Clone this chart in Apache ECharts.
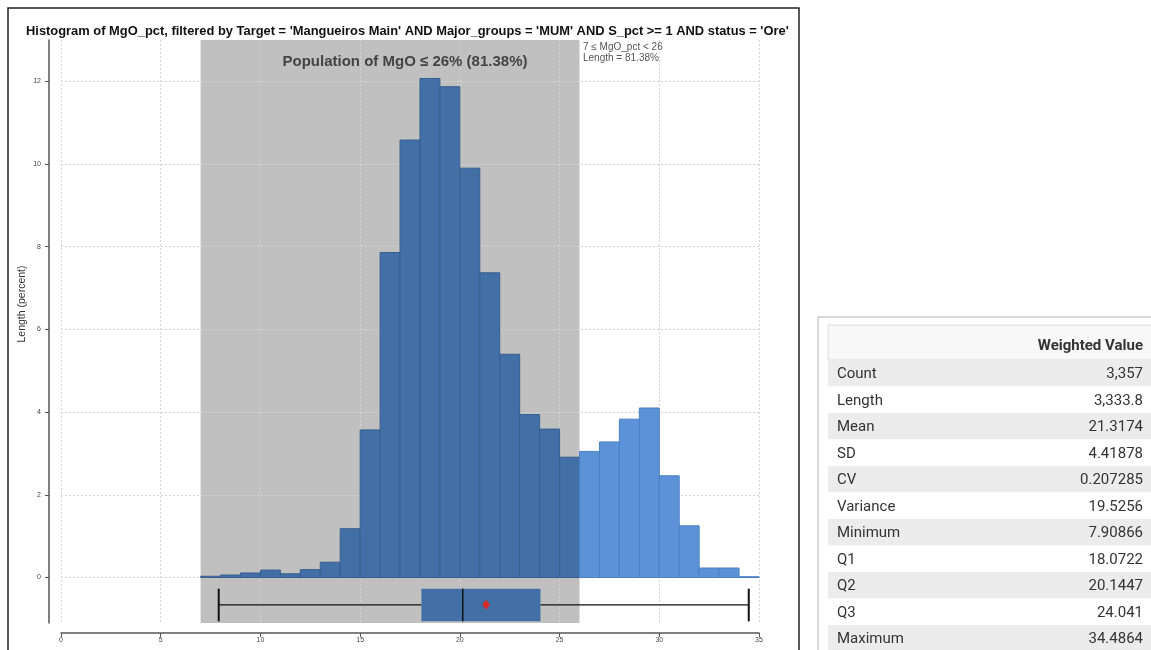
<!DOCTYPE html>
<html>
<head>
<meta charset="utf-8">
<script src="https://cdn.jsdelivr.net/npm/echarts@6/dist/echarts.min.js"></script>
<style>
  html, body { margin: 0; padding: 0; background: #ffffff; }
  #chart { width: 1151px; height: 650px; }
</style>
</head>
<body>
<div id="chart"></div>
<script>
// ---- data ----
const TITLE = "Histogram of MgO_pct, filtered by Target = 'Mangueiros Main' AND Major_groups = 'MUM' AND S_pct >= 1 AND status = 'Ore'";
const BIN_LEFT = [7, 8, 9, 10, 11, 12, 13, 14, 15, 16, 17, 18, 19, 20, 21, 22, 23, 24, 25, 26, 27, 28, 29, 30, 31, 32, 33, 34];
const BIN_WIDTH = 1;
const BIN_PERCENT = [0.03, 0.06, 0.11, 0.18, 0.09, 0.19, 0.37, 1.18, 3.57, 7.86, 10.58, 12.07, 11.87, 9.90, 7.37, 5.40, 3.94, 3.59, 2.91,
                     3.05, 3.28, 3.83, 4.10, 2.46, 1.25, 0.23, 0.23, 0.02];
const RANGE_LOW = 7;
const RANGE_HIGH = 26;
const RANGE_SHARE = '81.38%';
const X_TICKS = [0, 5, 10, 15, 20, 25, 30, 35];
const Y_TICKS = [0, 2, 4, 6, 8, 10, 12];
const Y_MIN = -1.1;
const Y_MAX = 13;
const STAT_NAMES = ['Count', 'Length', 'Mean', 'SD', 'CV', 'Variance', 'Minimum', 'Q1', 'Q2', 'Q3', 'Maximum'];
const STAT_VALUES = [3357, 3333.8, 21.3174, 4.41878, 0.207285, 19.5256, 7.90866, 18.0722, 20.1447, 24.041, 34.4864];

const stat = name => STAT_VALUES[STAT_NAMES.indexOf(name)];
const fmt = v => v.toLocaleString('en-US', { maximumFractionDigits: 6 });

// ---- colours ----
const DARK_FILL = '#426fa6', DARK_EDGE = '#385f8f';
const LIGHT_FILL = '#5c93d8', LIGHT_EDGE = '#4b80c4';
const SHADE = '#c0c0c0';

// box-plot band (in y-axis units, below zero)
const BOX_TOP = -0.27, BOX_BOTTOM = -1.06, BOX_MID = -0.66;

const chart = echarts.init(document.getElementById('chart'), null, { renderer: 'canvas' });

// statistics table, right-hand panel
const tableChildren = [];
const TX = 828, TY = 325, TW = 340, HEADER_H = 35, ROW_H = 26.5;
tableChildren.push({ type: 'rect', shape: { x: 818, y: 317, width: 360, height: 360 }, style: { fill: '#ffffff', stroke: '#b4b4b4', lineWidth: 1 } });
tableChildren.push({ type: 'rect', shape: { x: TX, y: TY, width: TW, height: HEADER_H }, style: { fill: '#f8f8f8', stroke: '#dddddd', lineWidth: 1 } });
tableChildren.push({ type: 'text', x: 1143, y: TY + HEADER_H / 2 + 4, style: { text: 'Weighted Value', font: 'bold 15px Roboto', fill: '#333333', align: 'right', verticalAlign: 'middle' } });
STAT_NAMES.forEach((name, i) => {
  const y = TY + HEADER_H + i * ROW_H;
  tableChildren.push({ type: 'rect', shape: { x: TX, y: y, width: TW, height: ROW_H }, style: { fill: i % 2 === 0 ? '#ececec' : '#ffffff' } });
  tableChildren.push({ type: 'text', x: 837, y: y + ROW_H / 2 + 1, style: { text: name, font: '15px Roboto', fill: '#333333', align: 'left', verticalAlign: 'middle' } });
  tableChildren.push({ type: 'text', x: 1143, y: y + ROW_H / 2 + 1, style: { text: fmt(STAT_VALUES[i]), font: '15px Roboto', fill: '#333333', align: 'right', verticalAlign: 'middle' } });
});

const option = {
  backgroundColor: '#ffffff',
  animation: false,
  title: {
    text: TITLE,
    left: 21,
    top: 20,
    textStyle: { fontFamily: 'Liberation Sans', fontWeight: 'bold', fontSize: 12.9, color: '#111111' }
  },
  grid: { left: 61, right: 392, top: 40, bottom: 27, containLabel: false },
  xAxis: {
    type: 'value',
    min: 0, max: 35, interval: 5,
    offset: 10,
    z: 1,
    axisLine: { show: true, onZero: false, lineStyle: { color: '#555555', width: 1.5 } },
    axisTick: { show: true, length: 4, inside: false, lineStyle: { color: '#555555' } },
    axisLabel: { show: true, fontFamily: 'Liberation Sans', fontSize: 7, color: '#444444', margin: 4, customValues: X_TICKS },
    splitLine: { show: true, lineStyle: { color: '#d2d2d2', type: [2, 2], width: 1 } }
  },
  yAxis: {
    type: 'value',
    min: Y_MIN, max: Y_MAX,
    offset: 12,
    z: 1,
    axisLine: { show: true, onZero: false, lineStyle: { color: '#555555', width: 1.5 } },
    axisTick: { show: true, length: 4, customValues: Y_TICKS, lineStyle: { color: '#555555' } },
    axisLabel: { show: true, fontFamily: 'Liberation Sans', fontSize: 7, color: '#444444', margin: 8, customValues: Y_TICKS },
    splitLine: { show: true, lineStyle: { color: '#d2d2d2', type: [2, 2], width: 1 } }
  },
  series: [
    {
      // shaded population range
      type: 'custom',
      z: 0,
      silent: true,
      data: [[RANGE_LOW, RANGE_HIGH]],
      encode: { x: [0, 1] },
      renderItem(params, api) {
        const a = api.coord([api.value(0), Y_MAX]);
        const b = api.coord([api.value(1), Y_MIN]);
        return { type: 'rect', shape: { x: a[0], y: a[1], width: b[0] - a[0], height: b[1] - a[1] }, style: { fill: SHADE } };
      }
    },
    {
      // histogram bins
      type: 'custom',
      z: 3,
      data: BIN_LEFT.map((l, i) => [l, l + BIN_WIDTH, BIN_PERCENT[i]]),
      encode: { x: [0, 1], y: 2 },
      renderItem(params, api) {
        const top = api.coord([api.value(0), api.value(2)]);
        const base = api.coord([api.value(1), 0]);
        const inside = api.value(1) <= RANGE_HIGH;
        return {
          type: 'rect',
          shape: { x: top[0], y: top[1], width: base[0] - top[0], height: base[1] - top[1] },
          style: { fill: inside ? DARK_FILL : LIGHT_FILL, stroke: inside ? DARK_EDGE : LIGHT_EDGE, lineWidth: 1 }
        };
      }
    },
    {
      // box plot of the weighted statistics
      type: 'custom',
      z: 4,
      data: [[stat('Minimum'), stat('Q1'), stat('Q2'), stat('Q3'), stat('Maximum'), stat('Mean')]],
      encode: { x: [0, 4] },
      renderItem(params, api) {
        const [mn, q1, q2, q3, mx, mean] = [0, 1, 2, 3, 4, 5].map(i => api.value(i));
        const yTop = api.coord([0, BOX_TOP])[1];
        const yBot = api.coord([0, BOX_BOTTOM])[1];
        const yMid = api.coord([0, BOX_MID])[1];
        const X = v => api.coord([v, 0])[0];
        const line = (x1, y1, x2, y2, w) => ({ type: 'line', shape: { x1, y1, x2, y2 }, style: { stroke: '#111111', lineWidth: w } });
        const mx0 = X(mean);
        return {
          type: 'group',
          children: [
            line(X(mn), yMid, X(q1), yMid, 1.2),
            line(X(q3), yMid, X(mx), yMid, 1.2),
            line(X(mn), yTop, X(mn), yBot, 2),
            line(X(mx), yTop, X(mx), yBot, 2),
            { type: 'rect', shape: { x: X(q1), y: yTop, width: X(q3) - X(q1), height: yBot - yTop }, style: { fill: DARK_FILL } },
            line(X(q2), yTop, X(q2), yBot, 1.5),
            { type: 'polygon', shape: { points: [[mx0, yMid - 5], [mx0 + 4, yMid], [mx0, yMid + 5], [mx0 - 4, yMid]] }, style: { fill: '#d42a2a' } }
          ]
        };
      }
    }
  ],
  graphic: [
    { type: 'rect', z: 10, shape: { x: 8, y: 8, width: 791, height: 700 }, style: { fill: 'none', stroke: '#222222', lineWidth: 1.5 } },
    { type: 'text', z: 10, x: 405, y: 62, style: { text: 'Population of MgO \u2264 26% (' + RANGE_SHARE + ')', font: 'bold 15px Liberation Sans', fill: '#444444', align: 'center', verticalAlign: 'middle' } },
    { type: 'text', z: 10, x: 583, y: 47, style: { text: RANGE_LOW + ' \u2264 MgO_pct < ' + RANGE_HIGH, font: '10px Liberation Sans', fill: '#555555', align: 'left', verticalAlign: 'middle' } },
    { type: 'text', z: 10, x: 583, y: 58, style: { text: 'Length = ' + RANGE_SHARE, font: '10px Liberation Sans', fill: '#555555', align: 'left', verticalAlign: 'middle' } },
    { type: 'text', z: 10, x: 22, y: 304, rotation: Math.PI / 2, style: { text: 'Length (percent)', font: '10.5px Liberation Sans', fill: '#333333', align: 'center', verticalAlign: 'middle' } },
    { type: 'group', z: 10, children: tableChildren }
  ]
};

chart.setOption(option);
</script>
</body>
</html>
